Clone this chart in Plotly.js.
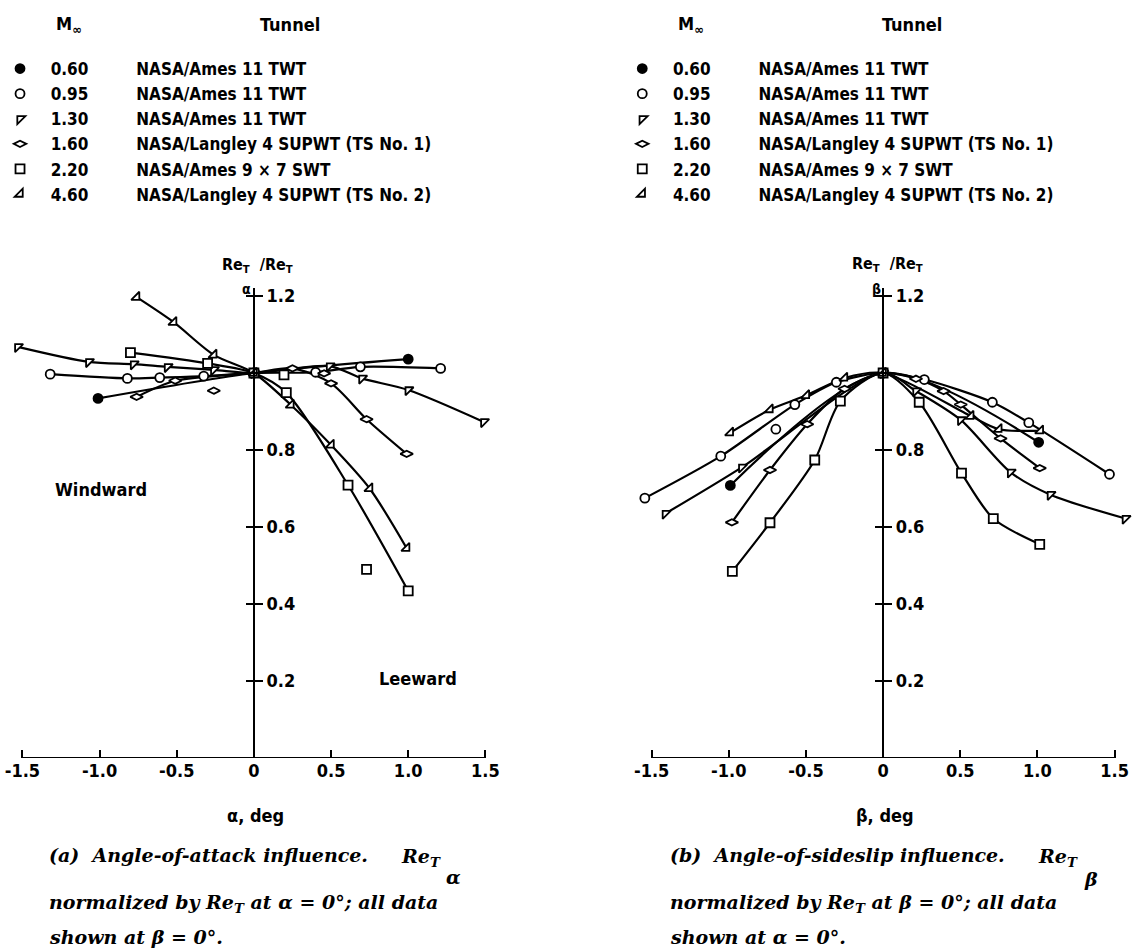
<!DOCTYPE html>
<html><head><meta charset="utf-8">
<script src="https://cdn.plot.ly/plotly-3.0.1.min.js"></script>
<style>html,body{margin:0;padding:0;background:#fff}</style>
</head><body><div id="chart" style="width:1132px;height:952px"></div>
<script>
// ---------------- data ----------------
const machLabels = ["0.60", "0.95", "1.30", "1.60", "2.20", "4.60"];
const tunnels = ["NASA/Ames 11 TWT", "NASA/Ames 11 TWT", "NASA/Ames 11 TWT",
  "NASA/Langley 4 SUPWT (TS No. 1)", "NASA/Ames 9 \u00d7 7 SWT", "NASA/Langley 4 SUPWT (TS No. 2)"];
const xTickVals = [-1.5, -1.0, -0.5, 0, 0.5, 1.0, 1.5];
const xTickText = ["-1.5", "-1.0", "-0.5", "0", "0.5", "1.0", "1.5"];
const yTickVals = [0.2, 0.4, 0.6, 0.8, 1.0, 1.2];
const yTickText = ["0.2", "0.4", "0.6", "0.8", "", "1.2"];

// (a) angle of attack, Re_T(alpha)/Re_T
const a060x = [-1.01, 0, 1.00];
const a060y = [0.934, 1.0, 1.036];
const a095x = [-1.32, -0.82, -0.61, -0.325, 0, 0.40, 0.69, 1.21];
const a095y = [0.997, 0.986, 0.988, 0.992, 1.0, 1.002, 1.016, 1.012];
const a130x = [-1.53, -1.07, -0.78, -0.56, -0.26, 0, 0.49, 0.70, 1.00, 1.49];
const a130y = [1.068, 1.029, 1.023, 1.016, 1.008, 1.0, 1.018, 0.986, 0.956, 0.873];
const a160x = [-0.76, -0.51, -0.26, 0, 0.25, 0.455, 0.50, 0.73, 0.99];
const a160y = [0.938, 0.980, 0.954, 1.0, 1.012, 0.999, 0.973, 0.880, 0.790];
const a160off = [2, 5];
const a220x = [-0.80, -0.30, 0, 0.195, 0.21, 0.61, 0.73, 1.00];
const a220y = [1.053, 1.025, 1.0, 0.995, 0.949, 0.709, 0.490, 0.434];
const a220off = [3, 6];
const a460x = [-0.76, -0.52, -0.26, 0, 0.24, 0.50, 0.75, 0.99];
const a460y = [1.197, 1.132, 1.047, 1.0, 0.917, 0.813, 0.700, 0.545];

// (b) angle of sideslip, Re_T(beta)/Re_T
const b060x = [-0.99, 0, 1.008];
const b060y = [0.708, 1.0, 0.820];
const b095x = [-1.544, -1.052, -0.695, -0.572, -0.303, 0, 0.267, 0.708, 0.944, 1.467];
const b095y = [0.675, 0.784, 0.854, 0.918, 0.976, 1.0, 0.983, 0.924, 0.871, 0.737];
const b095off = [2];
const b130x = [-1.411, -0.916, 0, 0.213, 0.503, 0.826, 1.084, 1.57];
const b130y = [0.635, 0.755, 1.0, 0.953, 0.878, 0.742, 0.684, 0.622];
const b160x = [-0.98, -0.733, -0.492, -0.25, 0, 0.213, 0.392, 0.503, 0.761, 1.015];
const b160y = [0.612, 0.748, 0.867, 0.959, 1.0, 0.985, 0.953, 0.918, 0.830, 0.753];
const b220x = [-0.977, -0.733, -0.443, -0.277, 0, 0.234, 0.508, 0.714, 1.015];
const b220y = [0.485, 0.611, 0.774, 0.927, 1.0, 0.924, 0.740, 0.622, 0.555];
const b460x = [-0.99, -0.733, -0.497, -0.25, 0, 0.568, 0.75, 1.019];
const b460y = [0.845, 0.905, 0.942, 0.987, 1.0, 0.888, 0.854, 0.850];

// ---------------- styling ----------------
const W = 1132, H = 952;
const SANS = '"DejaVu Sans Condensed", "Liberation Sans Narrow", "DejaVu Sans", sans-serif';
const SERIF = '"DejaVu Serif", serif';
const symbols = ["circle", "circle", "triangle-nw", "diamond-wide", "square", "triangle-se"];
const fills = ["#000", "#fff", "#fff", "#fff", "#fff", "#fff"];
const NB = "\u00a0";

const panelA = [[a060x, a060y, []], [a095x, a095y, []], [a130x, a130y, []],
  [a160x, a160y, a160off], [a220x, a220y, a220off], [a460x, a460y, []]];
const panelB = [[b060x, b060y, []], [b095x, b095y, b095off], [b130x, b130y, []],
  [b160x, b160y, []], [b220x, b220y, []], [b460x, b460y, []]];

const traces = [];
function addPanel(panel, xa, ya, legendId) {
  panel.forEach(function (s) {
    const xs = s[0], ys = s[1], off = s[2];
    traces.push({
      x: xs.filter(function (v, k) { return off.indexOf(k) < 0; }),
      y: ys.filter(function (v, k) { return off.indexOf(k) < 0; }),
      xaxis: xa, yaxis: ya, mode: "lines", showlegend: false, hoverinfo: "skip",
      line: { color: "#000", width: 2.2, shape: "spline", smoothing: 0.8 }
    });
  });
  panel.forEach(function (s, i) {
    traces.push({
      x: s[0], y: s[1], xaxis: xa, yaxis: ya, mode: "markers", legend: legendId,
      name: NB + NB + machLabels[i] + NB.repeat(9) + tunnels[i],
      cliponaxis: false,
      marker: { symbol: symbols[i], size: 9, color: fills[i], line: { color: "#000", width: 1.8 } }
    });
  });
}
addPanel(panelA, "x", "y", "legend");
addPanel(panelB, "x2", "y2", "legend2");
traces.push({ x: [null], y: [null], xaxis: "x", yaxis: "y3", mode: "markers", showlegend: false, hoverinfo: "skip" });
traces.push({ x: [null], y: [null], xaxis: "x2", yaxis: "y4", mode: "markers", showlegend: false, hoverinfo: "skip" });

// geometry (pixels)
const X0L = 250, X0R = 882, PXU = 155, Y0 = 758, PYU = 385, XR = 1.6, YTOP = 1.22;
const yDom = [(H - Y0) / H, (H - (Y0 - YTOP * PYU)) / H];
function xDom(x0) { return [(x0 - XR * PXU) / W, (x0 + XR * PXU) / W]; }

const tickFont = { family: SANS, size: 18, color: "#000", weight: "bold" };
function xAxis(x0, anchor) {
  return {
    domain: xDom(x0), range: [-XR, XR], anchor: anchor,
    tickmode: "array", tickvals: xTickVals, ticktext: xTickText,
    ticks: "inside", ticklen: 8, tickwidth: 2, tickcolor: "#000",
    showline: false, showgrid: false, zeroline: false, tickfont: tickFont, fixedrange: true
  };
}
function yAxis(x0, side, labels, over) {
  const a = {
    domain: yDom, range: [0, YTOP], anchor: "free", position: x0 / W, side: side,
    tickmode: "array", tickvals: yTickVals, ticktext: yTickText,
    ticks: "outside", ticklen: 8, tickwidth: 2, tickcolor: "#000",
    showline: !over, linewidth: 2, linecolor: "#000",
    showgrid: false, zeroline: false, showticklabels: labels, tickfont: tickFont, fixedrange: true
  };
  if (over) a.overlaying = over;
  return a;
}

function P(x, y) { return { x: x / W, y: 1 - y / H }; }
const anns = [];
function ann(text, x, y, font, xanchor) {
  const p = P(x, y);
  anns.push({ text: text, x: p.x, y: p.y, xref: "paper", yref: "paper", showarrow: false,
    xanchor: xanchor || "center", yanchor: "middle", font: font });
}
const lblFont = { family: SANS, size: 18, color: "#000", weight: "bold" };
const smallFont = { family: SANS, size: 16, color: "#000", weight: "bold" };
const subFont = { family: SANS, size: 14, color: "#000", weight: "bold" };
const capFont = { family: SERIF, size: 19, color: "#000", weight: "bold", style: "italic" };

[0, 625].forEach(function (dx) {
  ann("M<sub>\u221e</sub>", 64 + dx, 25, lblFont);
  ann("Tunnel", 286 + dx, 24, lblFont);
});
// y-axis titles
ann("Re<sub>T</sub>" + NB + NB + "/Re<sub>T</sub>", 254, 265, smallFont);
ann("\u03b1", 243, 289, subFont);
ann("Re<sub>T</sub>" + NB + NB + "/Re<sub>T</sub>", 886, 264, smallFont);
ann("\u03b2", 875, 289, subFont);
ann("Windward", 96, 490, lblFont);
ann("Leeward", 415, 678, lblFont);
ann("\u03b1, deg", 252, 815, lblFont);
ann("\u03b2, deg", 884, 815, lblFont);
// captions
ann("(a)" + NB + NB + "Angle-of-attack influence.", 42, 855, capFont, "left");
ann("Re<sub>T</sub>", 440, 857, capFont, "right");
ann("\u03b1", 441, 877, capFont, "left");
ann("normalized by Re<sub>T</sub> at \u03b1 = 0\u00b0; all data", 42, 903, capFont, "left");
ann("shown at \u03b2 = 0\u00b0.", 42, 937, capFont, "left");
ann("(b)" + NB + NB + "Angle-of-sideslip influence.", 666, 855, capFont, "left");
ann("Re<sub>T</sub>", 1080, 857, capFont, "right");
ann("\u03b2", 1082, 879, capFont, "left");
ann("normalized by Re<sub>T</sub> at \u03b2 = 0\u00b0; all data", 666, 903, capFont, "left");
ann("shown at \u03b1 = 0\u00b0.", 666, 937, capFont, "left");

const shapes = [
  { type: "line", xref: "x", yref: "y", x0: -1.5, x1: 1.5, y0: 0, y1: 0, line: { color: "#000", width: 2 } },
  { type: "line", xref: "x2", yref: "y2", x0: -1.5, x1: 1.5, y0: 0, y1: 0, line: { color: "#000", width: 2 } }
];

const legFont = { family: SANS, size: 17, color: "#000", weight: "bold" };
function leg(x) {
  const p = P(x, 51);
  return { x: p.x, y: p.y, xanchor: "left", yanchor: "top", font: legFont, bgcolor: "rgba(0,0,0,0)",
    itemwidth: 30, tracegroupgap: 0, itemclick: false, itemdoubleclick: false };
}

const layout = {
  width: W, height: H, autosize: false, margin: { l: 0, r: 0, t: 0, b: 0 },
  paper_bgcolor: "#fff", plot_bgcolor: "rgba(0,0,0,0)", showlegend: true,
  xaxis: xAxis(X0L, "y"), xaxis2: xAxis(X0R, "y2"),
  yaxis: yAxis(X0L, "right", true), yaxis2: yAxis(X0R, "right", true),
  yaxis3: yAxis(X0L, "left", false, "y"), yaxis4: yAxis(X0R, "left", false, "y2"),
  legend: leg(-5), legend2: leg(620),
  annotations: anns, shapes: shapes, hovermode: false
};
Plotly.newPlot("chart", traces, layout, { staticPlot: true, displayModeBar: false });
</script></body></html>
